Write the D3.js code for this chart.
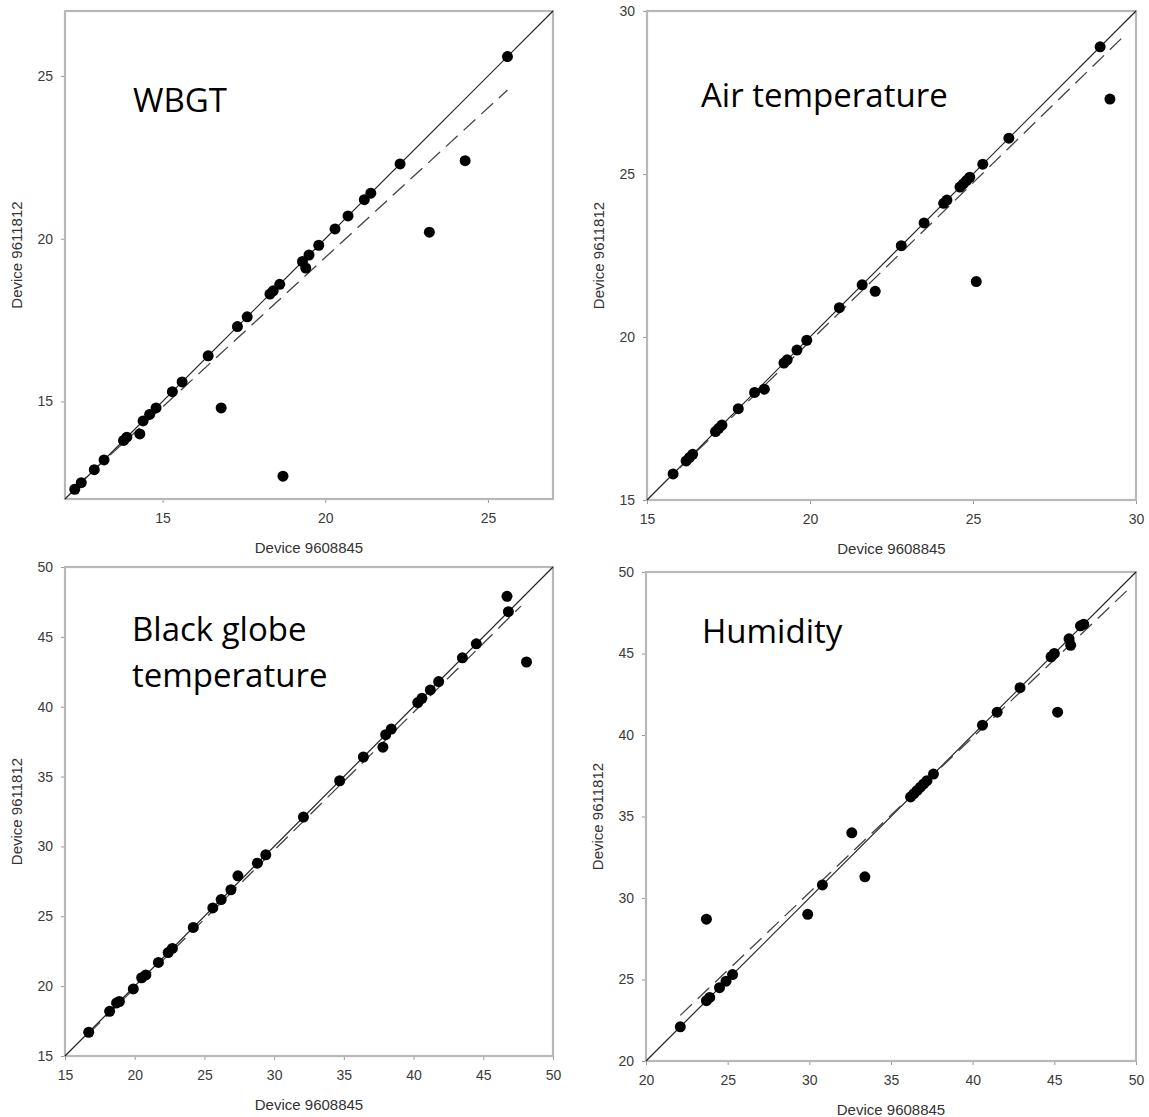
<!DOCTYPE html>
<html>
<head>
<meta charset="utf-8">
<script src="https://cdn.jsdelivr.net/npm/d3@7"></script>
<style>
  body { margin: 0; background: #fff; }
  .tick text { font-family: Arial, "Liberation Sans", sans-serif; font-size: 14px; fill: #3a3a3a; }
  .tick line { stroke: #999; }
  .ax-title { font-family: Arial, "Liberation Sans", sans-serif; font-size: 15px; fill: #333; }
  .panel-title { font-family: "Open Sans", sans-serif; font-size: 33px; fill: #000; }
</style>
</head>
<body>
<div id="chart"></div>
<script>
// values: x = Device 9608845, y = Device 9611812
const wbgtX = [25.6, 22.3, 24.3, 21.4, 21.2, 20.7, 20.3, 23.2, 19.8, 19.5, 19.3, 19.4, 18.6, 18.4, 18.3, 17.6, 17.3, 16.4, 16.8, 15.6, 15.3, 18.7, 14.8, 14.6, 14.4, 14.3, 13.9, 13.8, 13.2, 12.9, 12.5, 12.3];
const wbgtY = [25.6, 22.3, 22.4, 21.4, 21.2, 20.7, 20.3, 20.2, 19.8, 19.5, 19.3, 19.1, 18.6, 18.4, 18.3, 17.6, 17.3, 16.4, 14.8, 15.6, 15.3, 12.7, 14.8, 14.6, 14.4, 14.0, 13.9, 13.8, 13.2, 12.9, 12.5, 12.3];

const airX = [28.9, 29.2, 26.1, 25.3, 24.9, 24.8, 24.7, 24.6, 24.2, 24.1, 23.5, 22.8, 21.6, 22.0, 25.1, 20.9, 19.9, 19.6, 19.3, 19.2, 18.6, 18.3, 17.8, 17.3, 17.2, 17.1, 16.4, 16.3, 16.2, 15.8];
const airY = [28.9, 27.3, 26.1, 25.3, 24.9, 24.8, 24.7, 24.6, 24.2, 24.1, 23.5, 22.8, 21.6, 21.4, 21.7, 20.9, 19.9, 19.6, 19.3, 19.2, 18.4, 18.3, 17.8, 17.3, 17.2, 17.1, 16.4, 16.3, 16.2, 15.8];

const globeX = [46.7, 46.8, 48.1, 44.5, 43.5, 41.8, 41.2, 40.6, 40.3, 38.4, 38.0, 37.8, 36.4, 34.7, 32.1, 29.4, 28.8, 27.4, 26.9, 26.2, 25.6, 24.2, 22.7, 22.4, 21.7, 20.8, 20.5, 19.9, 18.9, 18.7, 18.2, 16.7];
const globeY = [47.9, 46.8, 43.2, 44.5, 43.5, 41.8, 41.2, 40.6, 40.3, 38.4, 38.0, 37.1, 36.4, 34.7, 32.1, 29.4, 28.8, 27.9, 26.9, 26.2, 25.6, 24.2, 22.7, 22.4, 21.7, 20.8, 20.6, 19.8, 18.9, 18.8, 18.2, 16.7];

const humX = [46.8, 46.6, 45.9, 46.0, 44.8, 45.0, 45.2, 42.9, 41.5, 40.6, 37.6, 37.2, 37.0, 36.8, 36.6, 36.4, 36.2, 32.6, 33.4, 30.8, 29.9, 23.7, 25.3, 24.9, 24.5, 23.9, 23.7, 22.1];
const humY = [46.8, 46.7, 45.9, 45.5, 44.8, 45.0, 41.4, 42.9, 41.4, 40.6, 37.6, 37.2, 37.0, 36.8, 36.6, 36.4, 36.2, 34.0, 31.3, 30.8, 29.0, 28.7, 25.3, 24.9, 24.5, 23.9, 23.7, 22.1];

// dashed regression lines, start and end points
const wbgtFitX = [12.3, 25.6],  wbgtFitY = [12.35, 24.57];
const airFitX = [16.0, 29.7],   airFitY = [15.98, 29.3];
const globeFitX = [16.7, 47.7], globeFitY = [16.6, 47.2];
const humFitX = [22.1, 49.7],   humFitY = [22.8, 49.1];

// axis ranges and tick labels
const wbgtDomain = [12, 27],  wbgtTicks = [15, 20, 25];
const airDomain = [15, 30],   airTicks = [15, 20, 25, 30];
const globeDomain = [15, 50], globeTicks = [15, 20, 25, 30, 35, 40, 45, 50];
const humDomain = [20, 50],   humTicks = [20, 25, 30, 35, 40, 45, 50];

const xTitle = "Device 9608845", yTitle = "Device 9611812";

// layout of the 2x2 grid (pixels)
const panels = [
  {left: 65,  top: 11,  w: 488, h: 488, xs: wbgtX, ys: wbgtY, fx: wbgtFitX, fy: wbgtFitY, domain: wbgtDomain, ticks: wbgtTicks, title: ["WBGT"], tx: 68, ty: 101},
  {left: 647, top: 11,  w: 489, h: 489, xs: airX, ys: airY, fx: airFitX, fy: airFitY, domain: airDomain, ticks: airTicks, title: ["Air temperature"], tx: 54, ty: 96},
  {left: 65,  top: 567, w: 488, h: 489, xs: globeX, ys: globeY, fx: globeFitX, fy: globeFitY, domain: globeDomain, ticks: globeTicks, title: ["Black globe", "temperature"], tx: 67, ty: 74},
  {left: 646, top: 572, w: 490, h: 489, xs: humX, ys: humY, fx: humFitX, fy: humFitY, domain: humDomain, ticks: humTicks, title: ["Humidity"], tx: 56, ty: 71}
];

const svg = d3.select("#chart")
  .append("svg")
    .attr("width", 1149)
    .attr("height", 1117);

function drawPanel(p) {
  const g = svg.append("g")
    .attr("transform", `translate(${p.left},${p.top})`);

  const x = d3.scaleLinear().domain(p.domain).range([0, p.w]);
  const y = d3.scaleLinear().domain(p.domain).range([p.h, 0]);

  // axes (frame drawn separately)
  g.append("g")
    .attr("transform", `translate(0,${p.h})`)
    .call(d3.axisBottom(x).tickValues(p.ticks).tickSize(4).tickPadding(10).tickSizeOuter(0))
    .call(a => a.select(".domain").remove());
  g.append("g")
    .call(d3.axisLeft(y).tickValues(p.ticks).tickSize(4).tickPadding(8).tickSizeOuter(0))
    .call(a => a.select(".domain").remove());

  g.append("rect")
    .attr("width", p.w)
    .attr("height", p.h)
    .attr("fill", "none")
    .attr("stroke", "#b8b8b8")
    .attr("stroke-width", 2.2);

  // 1:1 line
  g.append("line")
    .attr("x1", x(p.domain[0])).attr("y1", y(p.domain[0]))
    .attr("x2", x(p.domain[1])).attr("y2", y(p.domain[1]))
    .attr("stroke", "#222")
    .attr("stroke-width", 1.2);

  // regression line
  const fit = d3.zip(p.fx, p.fy);
  g.append("path")
    .datum(fit)
    .attr("fill", "none")
    .attr("stroke", "#444")
    .attr("stroke-width", 1.3)
    .attr("stroke-dasharray", "16,8")
    .attr("d", d3.line().x(d => x(d[0])).y(d => y(d[1])));

  // points
  g.append("g")
    .selectAll("circle")
    .data(d3.zip(p.xs, p.ys))
    .join("circle")
      .attr("cx", d => x(d[0]))
      .attr("cy", d => y(d[1]))
      .attr("r", 5.5)
      .attr("fill", "#000");

  // panel title
  const t = g.append("text")
    .attr("class", "panel-title")
    .attr("x", p.tx)
    .attr("y", p.ty);
  t.selectAll("tspan")
    .data(p.title)
    .join("tspan")
      .attr("x", p.tx)
      .attr("dy", (d, i) => i ? 46 : 0)
      .text(d => d);

  // axis titles
  g.append("text")
    .attr("class", "ax-title")
    .attr("text-anchor", "middle")
    .attr("x", p.w / 2)
    .attr("y", p.h + 54)
    .text(xTitle);
  g.append("text")
    .attr("class", "ax-title")
    .attr("text-anchor", "middle")
    .attr("transform", `translate(-43,${p.h / 2}) rotate(-90)`)
    .text(yTitle);
}

panels.forEach(drawPanel);
</script>
</body>
</html>
